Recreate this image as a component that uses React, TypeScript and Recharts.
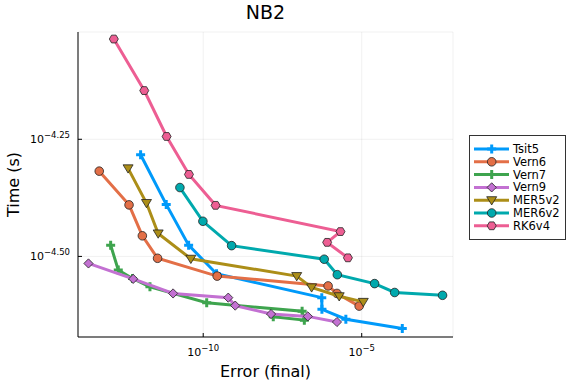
import React from "react";
import {
  ScatterChart,
  Scatter,
  XAxis,
  YAxis,
  CartesianGrid,
  Label,
} from "recharts";

// values are log10 of error and log10 of time
const tsit5Err = [-11.975, -11.167, -10.46, -9.58, -6.26, -6.255, -5.5, -3.72];
const tsit5Time = [-4.283, -4.389, -4.476, -4.537, -4.588, -4.613, -4.634, -4.654];

const vern6Err = [-13.28, -12.34, -11.92, -11.44, -9.56, -6.06, -5.78, -5.08];
const vern6Time = [-4.318, -4.39, -4.456, -4.504, -4.542, -4.563, -4.579, -4.606];

const vern7Err = [-12.92, -12.68, -12.23, -11.68, -9.89, -6.88, -6.81, -7.79];
const vern7Time = [-4.476, -4.529, -4.547, -4.565, -4.599, -4.617, -4.636, -4.629];

const vern9Err = [-13.62, -12.21, -10.95, -9.21, -8.99, -7.86, -6.7, -5.78];
const vern9Time = [-4.515, -4.548, -4.579, -4.588, -4.605, -4.623, -4.628, -4.64];

const mer5Err = [-12.37, -11.79, -11.42, -10.39, -7.05, -6.58, -5.71, -4.95];
const mer5Time = [-4.312, -4.386, -4.451, -4.505, -4.542, -4.566, -4.585, -4.597];

const mer6Err = [-10.735, -10.01, -9.104, -6.183, -5.77, -4.593, -3.96, -2.45];
const mer6Time = [-4.353, -4.425, -4.477, -4.506, -4.539, -4.558, -4.577, -4.583];

const rk6Err = [-12.82, -11.86, -11.155, -10.45, -9.61, -5.67, -6.09, -5.435];
const rk6Time = [-4.036, -4.146, -4.244, -4.325, -4.391, -4.447, -4.47, -4.503];

const xTickExps = [-10, -5];
const yTickExps = [-4.25, -4.5];

const xDomainExp = [-13.95, -2.12];
const yDomainExp = [-4.672, -4.021];

type MarkerKind = "cross" | "circle" | "diamond" | "dtriangle" | "hexagon";

const series = [
  { name: "Tsit5", color: "#009AFA", marker: "cross", err: tsit5Err, time: tsit5Time },
  { name: "Vern6", color: "#E36F47", marker: "circle", err: vern6Err, time: vern6Time },
  { name: "Vern7", color: "#3EA44E", marker: "cross", err: vern7Err, time: vern7Time },
  { name: "Vern9", color: "#C371D2", marker: "diamond", err: vern9Err, time: vern9Time },
  { name: "MER5v2", color: "#AC8E18", marker: "dtriangle", err: mer5Err, time: mer5Time },
  { name: "MER6v2", color: "#00A9AD", marker: "circle", err: mer6Err, time: mer6Time },
  { name: "RK6v4", color: "#ED5E93", marker: "hexagon", err: rk6Err, time: rk6Time },
] as { name: string; color: string; marker: MarkerKind; err: number[]; time: number[] }[];

const FONT = "DejaVu Sans, Liberation Sans, sans-serif";

function Marker({ kind, color, x, y }: { kind: MarkerKind; color: string; x: number; y: number }) {
  const sw = 0.8;
  const st = "#222";
  if (kind === "cross") {
    const a = 4.5;
    const t = 1.5;
    const pts = [
      [x - t, y - a], [x + t, y - a], [x + t, y - t], [x + a, y - t], [x + a, y + t], [x + t, y + t],
      [x + t, y + a], [x - t, y + a], [x - t, y + t], [x - a, y + t], [x - a, y - t], [x - t, y - t],
    ];
    return <polygon points={pts.map((p) => p.join(",")).join(" ")} fill={color} />;
  }
  if (kind === "circle") {
    return <circle cx={x} cy={y} r={4.3} fill={color} stroke={st} strokeWidth={sw} />;
  }
  if (kind === "diamond") {
    const r = 4.6;
    return (
      <polygon
        points={`${x},${y - r} ${x + r},${y} ${x},${y + r} ${x - r},${y}`}
        fill={color}
        stroke={st}
        strokeWidth={sw}
      />
    );
  }
  if (kind === "dtriangle") {
    const r = 5;
    return (
      <polygon
        points={`${x - r},${y - r * 0.7} ${x + r},${y - r * 0.7} ${x},${y + r * 0.95}`}
        fill={color}
        stroke={st}
        strokeWidth={sw}
      />
    );
  }
  const r = 4.5;
  const pts = [0, 1, 2, 3, 4, 5].map((i) => {
    const ang = (Math.PI / 3) * i;
    return `${x + r * Math.cos(ang)},${y + r * Math.sin(ang)}`;
  });
  return <polygon points={pts.join(" ")} fill={color} stroke={st} strokeWidth={sw} />;
}

function supText(exp: number, digits: number) {
  const s = digits > 0 ? Math.abs(exp).toFixed(digits) : String(Math.abs(exp));
  return (exp < 0 ? "\u2212" : "") + s;
}

function XTick(props: any) {
  const { x, y, payload } = props;
  const e = Math.round(Math.log10(payload.value) * 100) / 100;
  return (
    <g>
      <line x1={x} y1={y} x2={x} y2={y - 4} stroke="#000" strokeWidth={1} />
      <text x={x} y={y + 19} textAnchor="middle" fontFamily={FONT} fontSize={11} fill="#000">
        10
        <tspan dy={-5} fontSize={8.5}>
          {supText(e, 0)}
        </tspan>
      </text>
    </g>
  );
}

function YTick(props: any) {
  const { x, y, payload } = props;
  const e = Math.round(Math.log10(payload.value) * 100) / 100;
  return (
    <g>
      <line x1={x} y1={y} x2={x + 4} y2={y} stroke="#000" strokeWidth={1} />
      <text x={x - 8} y={y + 4} textAnchor="end" fontFamily={FONT} fontSize={11} fill="#000">
        10
        <tspan dy={-5} fontSize={8.5}>
          {supText(e, 2)}
        </tspan>
      </text>
    </g>
  );
}

function Legend() {
  const rowY = (i: number) => 14 + i * 12.8;
  return (
    <svg
      width={97}
      height={105}
      style={{ position: "absolute", left: 469, top: 135 }}
    >
      <rect x={0.5} y={0.5} width={96} height={104} fill="#fff" stroke="#333" strokeWidth={1} />
      {series.map((s, i) => (
        <g key={s.name}>
          <line x1={5} y1={rowY(i)} x2={40} y2={rowY(i)} stroke={s.color} strokeWidth={3} />
          <Marker kind={s.marker} color={s.color} x={22.7} y={rowY(i)} />
          <text x={44} y={rowY(i) + 4} fontFamily={FONT} fontSize={11.5} fill="#000">
            {s.name}
          </text>
        </g>
      ))}
    </svg>
  );
}

export default function App() {
  const pow = (v: number) => Math.pow(10, v);
  return (
    <div
      style={{
        position: "absolute",
        left: 0,
        top: 0,
        width: 576,
        height: 384,
        background: "#fff",
        fontFamily: FONT,
      }}
    >
      <div
        style={{
          position: "absolute",
          left: 78,
          width: 375,
          top: 1,
          textAlign: "center",
          fontSize: 19,
          color: "#000",
        }}
      >
        NB2
      </div>
      <ScatterChart
        width={576}
        height={384}
        margin={{ top: 32, right: 123, bottom: 0, left: 0 }}
      >
        <CartesianGrid stroke="#000" strokeOpacity={0.1} strokeWidth={0.6} />
        <XAxis
          type="number"
          dataKey="x"
          scale="log"
          domain={xDomainExp.map(pow)}
          allowDataOverflow
          ticks={xTickExps.map(pow)}
          tick={<XTick />}
          tickLine={false}
          tickSize={0}
          tickMargin={0}
          height={47}
          stroke="#000"
          interval={0}
        >
          <Label
            content={(p: any) => (
              <text
                x={p.viewBox.x + p.viewBox.width / 2}
                y={p.viewBox.y + 40}
                textAnchor="middle"
                fontFamily={FONT}
                fontSize={16}
                fill="#000"
              >
                Error (final)
              </text>
            )}
          />
        </XAxis>
        <YAxis
          type="number"
          dataKey="y"
          scale="log"
          domain={yDomainExp.map(pow)}
          allowDataOverflow
          ticks={yTickExps.map(pow)}
          tick={<YTick />}
          tickLine={false}
          tickSize={0}
          tickMargin={0}
          width={78}
          stroke="#000"
          interval={0}
        >
          <Label
            content={(p: any) => {
              const cx = 19;
              const cy = p.viewBox.y + p.viewBox.height / 2;
              return (
                <text
                  x={cx}
                  y={cy}
                  transform={`rotate(-90 ${cx} ${cy})`}
                  textAnchor="middle"
                  fontFamily={FONT}
                  fontSize={16}
                  fill="#000"
                >
                  Time (s)
                </text>
              );
            }}
          />
        </YAxis>
        {series.map((s) => (
          <Scatter
            key={s.name}
            name={s.name}
            data={s.err.map((e, i) => ({ x: pow(e), y: pow(s.time[i]) }))}
            fill={s.color}
            line={{ stroke: s.color, strokeWidth: 3 }}
            shape={(p: any) => <Marker kind={s.marker} color={s.color} x={p.cx} y={p.cy} />}
            isAnimationActive={false}
          />
        ))}
      </ScatterChart>
      <Legend />
    </div>
  );
}
